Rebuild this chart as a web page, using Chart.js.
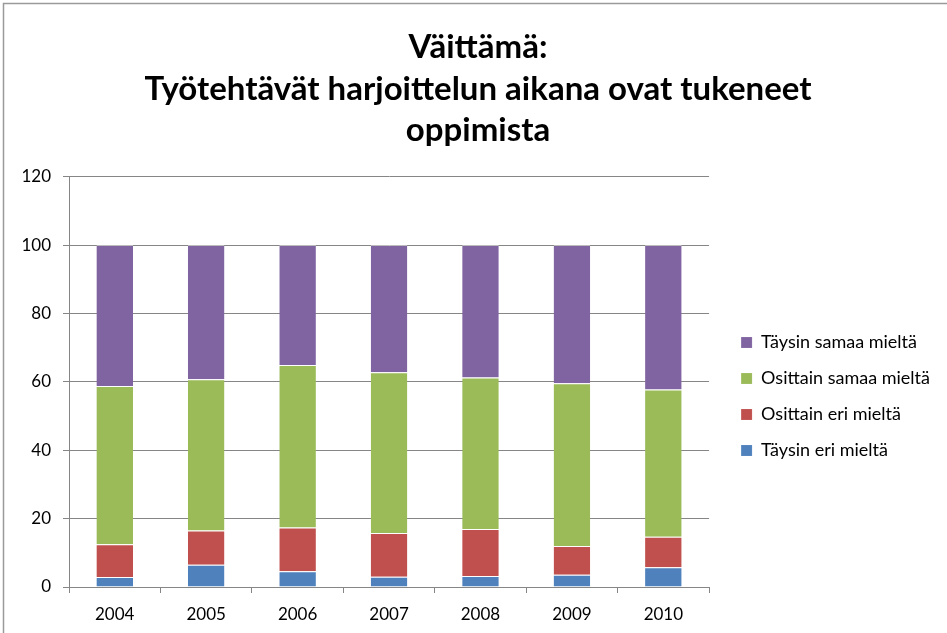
<!DOCTYPE html>
<html>
<head>
<meta charset="utf-8">
<script src="https://cdn.jsdelivr.net/npm/chart.js@4.4.0/dist/chart.umd.min.js"></script>
<style>
  html, body { margin: 0; padding: 0; background: #fff; }
  #wrap { position: relative; width: 947px; height: 633px; }
</style>
</head>
<body>
<div id="wrap"><canvas id="chart1" width="947" height="633"></canvas></div>
<script>
const years = ['2004', '2005', '2006', '2007', '2008', '2009', '2010']
const taysinEri = [2.9, 6.5, 4.6, 3.0, 3.2, 3.6, 5.8]
const osittainEri = [9.6, 10.0, 12.8, 12.8, 13.8, 8.4, 8.9]
const osittainSamaa = [46.3, 44.3, 47.5, 47.0, 44.3, 47.6, 43.1]
const taysinSamaa = [41.2, 39.2, 35.1, 37.2, 38.7, 40.4, 42.2]
const titleLines = ['Väittämä:', 'Työtehtävät harjoittelun aikana ovat tukeneet', 'oppimista']

const fontFamily = "Lato, 'Open Sans', sans-serif"
const canvas = document.getElementById('chart1')
const context = canvas.getContext('2d')

// white background + thin frame along the top and left edge
const frame = {
  id: 'frame',
  beforeDraw(chart) {
    const c = chart.ctx
    c.save()
    c.fillStyle = '#fff'
    c.fillRect(0, 0, chart.width, chart.height)
    c.strokeStyle = '#9a9a9a'
    c.lineWidth = 1.5
    c.beginPath()
    c.moveTo(3.5, chart.height)
    c.lineTo(3.5, 3.5)
    c.lineTo(chart.width, 3.5)
    c.stroke()
    c.restore()
  }
}

// push legend away from the plot and down a bit, nudge the title right
const nudge = {
  id: 'nudge',
  afterLayout(chart) {
    if (chart.legend) {
      chart.legend.left += 14
      chart.legend.right += 14
      chart.legend.top += 70
      chart.legend.bottom += 70
    }
    if (chart.titleBlock) {
      chart.titleBlock.left += 10
      chart.titleBlock.right += 10
    }
  }
}

function series(label, data, color) {
  return {
    label: label,
    data: data,
    backgroundColor: color,
    borderColor: 'rgba(255,255,255,0.45)',
    borderWidth: { top: 1 },
    borderSkipped: false,
    barPercentage: 0.4,
    categoryPercentage: 1
  }
}

const config = {
  type: 'bar',
  data: {
    labels: years,
    datasets: [
      series('Täysin eri mieltä', taysinEri, '#4F81BD'),
      series('Osittain eri mieltä', osittainEri, '#C0504D'),
      series('Osittain samaa mieltä', osittainSamaa, '#9BBB59'),
      series('Täysin samaa mieltä', taysinSamaa, '#8064A2')
    ]
  },
  options: {
    responsive: false,
    animation: false,
    layout: { padding: { left: 10, right: 21, top: 26, bottom: 6 } },
    plugins: {
      tooltip: { enabled: false },
      title: {
        display: true,
        text: titleLines,
        color: '#000',
        font: { family: fontFamily, size: 33, weight: 'bold', lineHeight: 1.27 },
        padding: { top: 0, bottom: 25 }
      },
      legend: {
        position: 'right',
        reverse: true,
        labels: {
          color: '#000',
          font: { family: fontFamily, size: 18 },
          boxWidth: 11,
          boxHeight: 11,
          padding: 18
        }
      }
    },
    scales: {
      x: {
        stacked: true,
        offset: true,
        afterFit: s => { s.height = 40 },
        grid: { drawOnChartArea: false, offset: true, tickLength: 6, color: '#868686' },
        border: { color: '#868686' },
        ticks: { color: '#000', font: { family: fontFamily, size: 17 }, padding: 11 }
      },
      y: {
        stacked: true,
        min: 0,
        max: 120,
        afterFit: s => { s.width = 59 },
        ticks: { stepSize: 20, color: '#000', font: { family: fontFamily, size: 17 }, padding: 12 },
        grid: { color: '#868686', tickLength: 6 },
        border: { color: '#868686' }
      }
    }
  },
  plugins: [frame, nudge]
}

const myChart = new Chart(context, config)
</script>
</body>
</html>
